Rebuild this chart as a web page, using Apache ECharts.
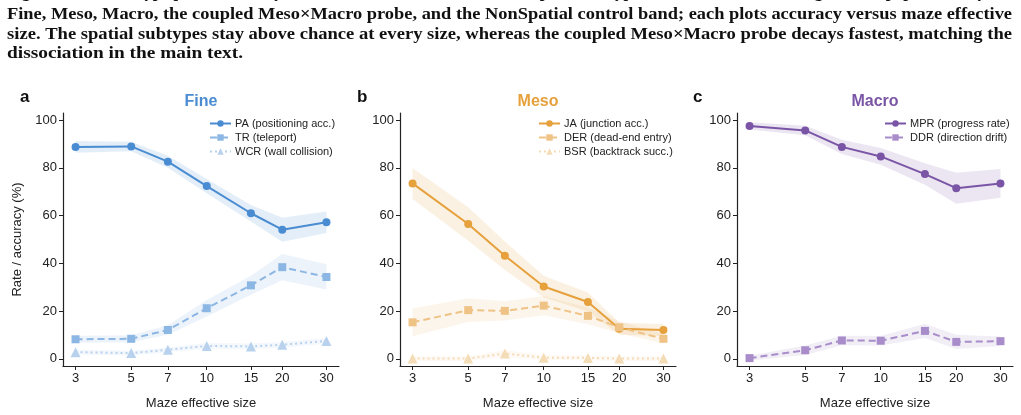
<!DOCTYPE html>
<html>
<head>
<meta charset="utf-8">
<script src="https://cdn.jsdelivr.net/npm/echarts@6/dist/echarts.min.js"></script>
<style>
html,body{margin:0;padding:0;background:#fff}
#main{width:1021px;height:415px}
</style>
</head>
<body>
<div id="main"></div>
<script>
// maze sizes (log x axis) and y ticks
var sizes = [3, 5, 7, 10, 15, 20, 30];
var yTicks = [0, 20, 40, 60, 80, 100];

// Fine
var paMean = [88.8, 89.0, 82.6, 72.4, 61.0, 54.1, 57.2];
var paErr  = [2.5, 2.0, 2.5, 3.0, 3.5, 5.0, 4.5];
var trMean = [8.2, 8.4, 12.1, 21.2, 30.8, 38.4, 34.3];
var trErr  = [1.5, 1.5, 2.0, 3.5, 4.0, 5.5, 5.3];
var wcrMean = [2.8, 2.4, 3.8, 5.4, 5.2, 5.9, 7.5];
var wcrErr  = [1.0, 1.0, 1.0, 1.2, 1.2, 1.2, 1.2];

// Meso
var jaMean = [73.5, 56.5, 43.2, 30.3, 23.8, 12.6, 12.1];
var jaErr  = [6.5, 7.0, 6.0, 4.5, 4.0, 2.5, 2.5];
var derMean = [15.3, 20.4, 20.1, 22.3, 18.0, 13.2, 8.4];
var derErr  = [5.8, 5.0, 4.0, 4.0, 3.5, 2.5, 2.0];
var bsrMean = [0.1, 0.1, 2.2, 0.5, 0.4, 0.1, 0.1];
var bsrErr  = [1.0, 1.0, 1.5, 1.0, 1.0, 1.0, 1.0];

// Macro
var mprMean = [97.6, 95.7, 88.8, 84.8, 77.4, 71.5, 73.5];
var mprErr  = [1.5, 2.0, 3.0, 3.5, 4.5, 6.5, 6.0];
var ddrMean = [0.3, 3.6, 7.7, 7.6, 11.7, 7.1, 7.4];
var ddrErr  = [1.0, 2.0, 2.0, 2.0, 3.0, 3.0, 2.0];

var panelNames = ['Fine', 'Meso', 'Macro'];
var panelLetters = ['a', 'b', 'c'];
var panelColors = ['#4a8cd2', '#e6a03c', '#7a55a6'];

var captionLines = [
  'Figure 14: Per-subtype probe accuracy across maze sizes. Panels show the spatial subtypes in the order used throughout the paper, namely the',
  'Fine, Meso, Macro, the coupled Meso\u00d7Macro probe, and the NonSpatial control band; each plots accuracy versus maze effective',
  'size. The spatial subtypes stay above chance at every size, whereas the coupled Meso\u00d7Macro probe decays fastest, matching the',
  'dissociation in the main text.'
];

var SANS = 'Liberation Sans, Arial, sans-serif';
var SERIF = 'Liberation Serif, serif';
var INK = '#222';

var grids = [
  {left: 63, top: 113, width: 276, height: 253},
  {left: 400, top: 113, width: 276, height: 253},
  {left: 737, top: 113, width: 276, height: 253}
];

var xMin = 3 / Math.pow(10, 0.05);
var xMax = 30 * Math.pow(10, 0.05);

function pts(vals) {
  return vals.map(function (v, i) { return [sizes[i], v]; });
}

// shaded +/- band, drawn as one polygon through the axis coords
function band(mean, err, fill, gi) {
  return {
    type: 'custom', xAxisIndex: gi, yAxisIndex: gi, silent: true, z: 1,
    data: mean.map(function (m, i) { return [sizes[i], m - err[i], m + err[i]]; }),
    encode: {x: 0, y: [1, 2]},
    renderItem: function (params, api) {
      if (params.dataIndex !== 0) return;
      var upper = [], lower = [];
      for (var i = 0; i < mean.length; i++) {
        upper.push(api.coord([sizes[i], mean[i] + err[i]]));
        lower.unshift(api.coord([sizes[i], mean[i] - err[i]]));
      }
      return {type: 'polygon', shape: {points: upper.concat(lower)}, style: {fill: fill}};
    }
  };
}

function line(name, mean, color, symbol, dash, gi, size) {
  return {
    name: name, type: 'line', xAxisIndex: gi, yAxisIndex: gi,
    data: pts(mean), symbol: symbol, symbolSize: size || 8,
    color: color, itemStyle: {color: color},
    lineStyle: {width: 2, type: dash, color: color},
    z: 3
  };
}

var series = [
  band(paMean, paErr, 'rgba(74,140,210,0.15)', 0),
  band(trMean, trErr, 'rgba(74,140,210,0.1)', 0),
  band(wcrMean, wcrErr, 'rgba(74,140,210,0.06)', 0),
  band(jaMean, jaErr, 'rgba(230,160,60,0.15)', 1),
  band(derMean, derErr, 'rgba(230,160,60,0.1)', 1),
  band(bsrMean, bsrErr, 'rgba(230,160,60,0.06)', 1),
  band(mprMean, mprErr, 'rgba(122,85,166,0.15)', 2),
  band(ddrMean, ddrErr, 'rgba(122,85,166,0.1)', 2),
  line('PA (positioning acc.)', paMean, '#4a8cd2', 'circle', 'solid', 0),
  line('TR (teleport)', trMean, '#8cb6e3', 'rect', [7, 4], 0),
  line('WCR (wall collision)', wcrMean, '#b8d2ee', 'triangle', [2, 3], 0, 10),
  line('JA (junction acc.)', jaMean, '#e6a03c', 'circle', 'solid', 1),
  line('DER (dead-end entry)', derMean, '#efc386', 'rect', [7, 4], 1),
  line('BSR (backtrack succ.)', bsrMean, '#f4dcb6', 'triangle', [2, 3], 1, 10),
  line('MPR (progress rate)', mprMean, '#7a55a6', 'circle', 'solid', 2),
  line('DDR (direction drift)', ddrMean, '#a88dca', 'rect', [7, 4], 2)
];

var legendData = [
  ['PA (positioning acc.)', 'TR (teleport)', 'WCR (wall collision)'],
  ['JA (junction acc.)', 'DER (dead-end entry)', 'BSR (backtrack succ.)'],
  ['MPR (progress rate)', 'DDR (direction drift)']
];
var legendLeft = [209, 538, 884];

var xAxes = [], yAxes = [], legends = [], graphics = [];
grids.forEach(function (g, gi) {
  xAxes.push({
    type: 'log', logBase: 10, gridIndex: gi, min: xMin, max: xMax,
    name: 'Maze effective size', nameLocation: 'middle', nameGap: 31,
    nameTextStyle: {fontSize: 13, color: INK, fontFamily: SANS},
    axisLine: {onZero: false, lineStyle: {color: INK, width: 1.2}},
    axisTick: {customValues: sizes, length: 4, lineStyle: {color: INK, width: 1}},
    axisLabel: {customValues: sizes, fontSize: 13, color: INK, margin: 6, fontFamily: SANS},
    splitLine: {show: false}, minorTick: {show: false}
  });
  yAxes.push({
    type: 'value', gridIndex: gi, min: -3, max: 103,
    name: gi === 0 ? 'Rate / accuracy (%)' : '', nameLocation: 'middle', nameGap: 39,
    nameTextStyle: {fontSize: 13, color: INK, fontFamily: SANS},
    axisLine: {show: true, onZero: false, lineStyle: {color: INK, width: 1.2}},
    axisTick: {show: true, customValues: yTicks, length: 4, lineStyle: {color: INK, width: 1}},
    axisLabel: {customValues: yTicks, fontSize: 13, color: INK, margin: 6, fontFamily: SANS},
    splitLine: {show: false}
  });
  legends.push({
    data: legendData[gi], orient: 'vertical', left: legendLeft[gi], top: 118,
    itemWidth: 21, itemHeight: 8, itemGap: 3,
    textStyle: {fontSize: 11, color: INK, fontFamily: SANS, padding: [0, 0, 0, -1]},
    padding: 0, selectedMode: false
  });
  graphics.push({
    type: 'text', x: g.left + g.width / 2, y: 102,
    style: {text: panelNames[gi], fill: panelColors[gi], font: 'bold 16px ' + SANS, align: 'center', verticalAlign: 'middle'}
  });
  graphics.push({
    type: 'text', x: [20, 357, 693][gi], y: 97,
    style: {text: panelLetters[gi], fill: '#111', font: 'bold 17px ' + SANS, align: 'left', verticalAlign: 'middle'}
  });
});

// caption, justified lines scaled to the column width
var ctx = document.createElement('canvas').getContext('2d');
var capFont = 'bold 17px ' + SERIF;
ctx.font = capFont;
var capWidth = [1005, 1005, 1005, 236];
var capTop = [-16, 6.5, 26, 45.5];
captionLines.forEach(function (t, i) {
  var s = capWidth[i] / ctx.measureText(t).width;
  graphics.push({
    type: 'text', x: 7, y: capTop[i], scaleX: s, originX: 0,
    style: {text: t, fill: '#111', font: capFont, align: 'left', verticalAlign: 'top'}
  });
});

var chart = echarts.init(document.getElementById('main'), null, {renderer: 'canvas'});
chart.setOption({
  animation: false,
  backgroundColor: '#fff',
  grid: grids,
  xAxis: xAxes,
  yAxis: yAxes,
  legend: legends,
  graphic: graphics,
  series: series
});
</script>
</body>
</html>
